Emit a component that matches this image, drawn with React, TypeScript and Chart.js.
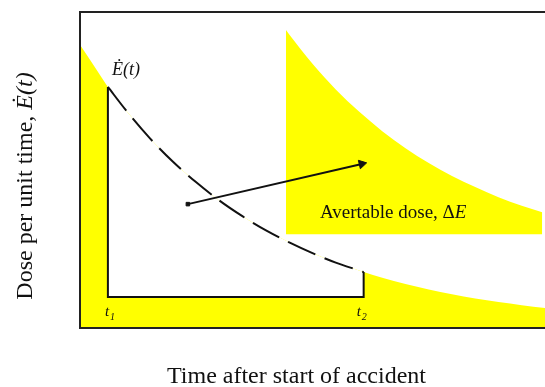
import React, { useEffect, useRef } from "react";
import { Chart, registerables } from "chart.js";

Chart.register(...registerables);

// Dose-rate curve (time after accident, dose per unit time) in arbitrary units
const TIME = [0, 5, 6, 10, 15, 20, 25, 30, 35, 40, 45, 50, 55, 60, 61, 65, 70, 75, 80, 85, 90, 95, 100];
const DOSE = [89.6, 78.5, 76.3, 68.7, 60.1, 52.6, 46.1, 40.3, 35.3, 30.9, 27.1, 23.7, 20.7, 18.2, 17.7, 15.9, 13.9, 12.2, 10.7, 9.3, 8.2, 7.2, 6.3];

// Intervention window t1..t2 and its lower edge
const T1 = 6;
const T2 = 61;
const WINDOW_BASE = 9.8;

// Magnified "avertable dose" inset
const INSET_TIME = [44.3, 45, 50, 55, 60, 65, 70, 75, 80, 85, 90, 95, 99.4];
const INSET_DOSE = [94.3, 92.9, 83.6, 75.5, 68.5, 62.3, 56.9, 52.2, 48.1, 44.6, 41.4, 38.7, 36.6];
const INSET_BASE = 29.7;

// Arrow from window to inset
const ARROW_TIME = [23.2, 60.6];
const ARROW_DOSE = [39.2, 51.9];

const SERIF = '"Liberation Serif", "Times New Roman", serif';
const YELLOW = "#ffff00";

type Run = [string, string];

function drawRuns(ctx: CanvasRenderingContext2D, runs: Run[], x: number, y: number, align: "left" | "center") {
  let total = 0;
  for (const [t, f] of runs) {
    ctx.font = f;
    total += ctx.measureText(t).width;
  }
  let cx = align === "center" ? x - total / 2 : x;
  ctx.textAlign = "left";
  ctx.textBaseline = "alphabetic";
  for (const [t, f] of runs) {
    ctx.font = f;
    ctx.fillText(t, cx, y);
    cx += ctx.measureText(t).width;
  }
}

const decorPlugin = {
  id: "decor",
  afterDatasetsDraw(chart: any) {
    const { ctx, chartArea } = chart;
    const { left, top, right, bottom } = chartArea;
    ctx.save();
    // frame: left, top, bottom (right side cut off)
    ctx.strokeStyle = "#222";
    ctx.lineWidth = 2;
    ctx.beginPath();
    ctx.moveTo(right, top);
    ctx.lineTo(left, top);
    ctx.lineTo(left, bottom);
    ctx.lineTo(right, bottom);
    ctx.stroke();

    const xs = chart.scales.x;
    ctx.fillStyle = "#111";

    // E(t) label near the curve
    drawRuns(ctx, [["Ė(t)", `italic 18px ${SERIF}`]], xs.getPixelForValue(T1) + 4, 75, "left");

    // t1, t2 labels
    const tFont = `italic 15px ${SERIF}`;
    const sFont = `italic 10px ${SERIF}`;
    const t1x = xs.getPixelForValue(T1) - 3;
    const t2x = xs.getPixelForValue(T2) - 7;
    ctx.font = tFont;
    ctx.textAlign = "left";
    ctx.fillText("t", t1x, 316);
    ctx.fillText("t", t2x, 316);
    ctx.font = sFont;
    ctx.fillText("1", t1x + 5, 320);
    ctx.fillText("2", t2x + 5, 320);

    // inset label
    drawRuns(
      ctx,
      [
        ["Avertable dose, Δ", `19px ${SERIF}`],
        ["E", `italic 19px ${SERIF}`],
      ],
      320,
      218,
      "left"
    );

    // x-axis title
    drawRuns(ctx, [["Time after start of accident", `24px ${SERIF}`]], 296.5, 383, "center");

    // y-axis title
    ctx.save();
    ctx.translate(32, 186);
    ctx.rotate(-Math.PI / 2);
    drawRuns(
      ctx,
      [
        ["Dose per unit time, ", `24px ${SERIF}`],
        ["Ė(t)", `italic 24px ${SERIF}`],
      ],
      0,
      0,
      "center"
    );
    ctx.restore();
    ctx.restore();
  },
};

export default function App() {
  const ref = useRef<HTMLCanvasElement | null>(null);

  useEffect(() => {
    if (!ref.current) return;
    const curve = TIME.map((t, i) => ({ x: t, y: DOSE[i] }));
    const windowPts = TIME.map((t, i) => ({ x: t, y: DOSE[i] })).filter((p) => p.x >= T1 && p.x <= T2);
    const doseAt = (t: number) => DOSE[TIME.indexOf(t)];
    const outline = [
      { x: T1, y: doseAt(T1) },
      { x: T1, y: WINDOW_BASE },
      { x: T2, y: WINDOW_BASE },
      { x: T2, y: doseAt(T2) },
    ];
    const inset = INSET_TIME.map((t, i) => ({ x: t, y: INSET_DOSE[i] }));
    const arrow = ARROW_TIME.map((t, i) => ({ x: t, y: ARROW_DOSE[i] }));

    const chart = new Chart(ref.current, {
      type: "line",
      data: {
        datasets: [
          {
            data: curve,
            fill: "origin",
            backgroundColor: YELLOW,
            borderWidth: 0,
            borderColor: "rgba(0,0,0,0)",
            pointRadius: 0,
            cubicInterpolationMode: "monotone",
            order: 10,
          },
          {
            data: windowPts,
            fill: { value: WINDOW_BASE },
            backgroundColor: "#ffffff",
            borderWidth: 0,
            borderColor: "rgba(0,0,0,0)",
            pointRadius: 0,
            cubicInterpolationMode: "monotone",
            order: 9,
          },
          {
            data: inset,
            fill: { value: INSET_BASE },
            backgroundColor: YELLOW,
            borderWidth: 0,
            borderColor: "rgba(0,0,0,0)",
            pointRadius: 0,
            cubicInterpolationMode: "monotone",
            order: 8,
          },
          {
            data: windowPts,
            fill: false,
            borderColor: "#111",
            borderWidth: 2,
            borderDash: [30, 10],
            pointRadius: 0,
            cubicInterpolationMode: "monotone",
            order: 3,
          },
          {
            data: outline,
            fill: false,
            borderColor: "#111",
            borderWidth: 2,
            pointRadius: 0,
            tension: 0,
            order: 2,
          },
          {
            data: arrow,
            fill: false,
            borderColor: "#111",
            borderWidth: 2,
            tension: 0,
            pointStyle: ["rect", "triangle"] as any,
            pointRadius: [2.5, 5],
            pointRotation: [0, 77],
            pointBackgroundColor: "#111",
            pointBorderColor: "#111",
            pointBorderWidth: 1,
            order: 1,
          },
        ],
      },
      options: {
        responsive: false,
        animation: false,
        events: [],
        layout: { autoPadding: false, padding: { left: 80, top: 12, right: 0, bottom: 59 } },
        scales: {
          x: { type: "linear", min: 0, max: 100, display: false },
          y: { type: "linear", min: 0, max: 100, display: false },
        },
        plugins: {
          legend: { display: false },
          tooltip: { enabled: false },
        },
      },
      plugins: [decorPlugin],
    });
    return () => chart.destroy();
  }, []);

  return (
    <div style={{ position: "absolute", left: 0, top: 0, width: 545, height: 387, background: "#fff" }}>
      <canvas ref={ref} width={545} height={387} style={{ width: 545, height: 387, display: "block" }} />
    </div>
  );
}
